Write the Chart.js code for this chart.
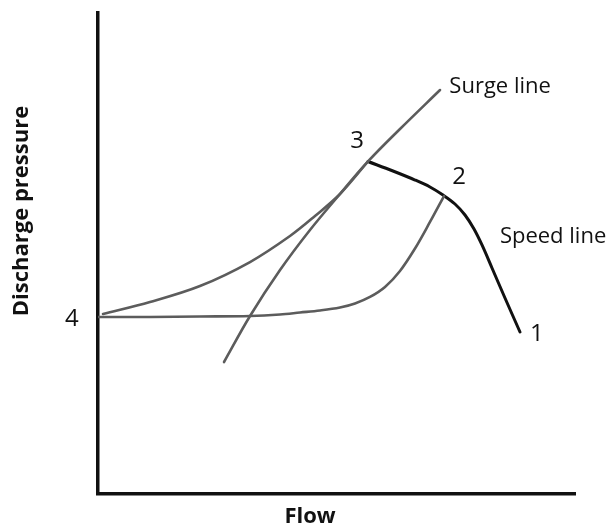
<!DOCTYPE html>
<html>
<head>
<meta charset="utf-8">
<script src="https://cdn.jsdelivr.net/npm/chart.js@4/dist/chart.umd.min.js"></script>
<style>
  html, body { margin: 0; padding: 0; background: #fff; }
  #wrap { width: 610px; height: 531px; }
</style>
</head>
<body>
<div id="wrap"><canvas id="c" width="610" height="531"></canvas></div>
<script>
// Flow (x) and discharge pressure (y), arbitrary units 0..100
const surgeLine = [
  {x: 26.42, y: 27.44}, {x: 31.87, y: 37.01}, {x: 38.16, y: 46.57}, {x: 44.44, y: 54.89},
  {x: 50.73, y: 62.37}, {x: 56.60, y: 69.13}, {x: 63.31, y: 75.88}, {x: 71.70, y: 83.99}
];
const upperCurve = [
  {x: 1.05, y: 37.42}, {x: 10.90, y: 39.92}, {x: 21.38, y: 43.24}, {x: 31.87, y: 48.23},
  {x: 40.25, y: 53.64}, {x: 45.49, y: 57.80}, {x: 50.73, y: 62.37}, {x: 56.60, y: 69.13}
];
const lowerCurve = [
  {x: 0.00, y: 36.80}, {x: 10.90, y: 36.80}, {x: 21.38, y: 36.90}, {x: 31.87, y: 37.01},
  {x: 38.16, y: 37.32}, {x: 42.35, y: 37.73}, {x: 46.54, y: 38.15}, {x: 50.73, y: 38.77},
  {x: 53.88, y: 39.61}, {x: 57.02, y: 40.96}, {x: 60.17, y: 43.04}, {x: 63.31, y: 46.36},
  {x: 66.46, y: 51.04}, {x: 69.60, y: 56.55}, {x: 72.54, y: 61.95}
];
const speedLine = [
  {x: 56.60, y: 69.13}, {x: 61.84, y: 67.15}, {x: 66.46, y: 65.28}, {x: 69.60, y: 63.83},
  {x: 72.33, y: 62.16}, {x: 74.84, y: 60.29}, {x: 76.94, y: 58.00}, {x: 78.83, y: 55.09},
  {x: 80.50, y: 51.77}, {x: 82.60, y: 46.99}, {x: 85.32, y: 40.75}, {x: 88.47, y: 33.68}
];
const pointLabels = ['1', '2', '3', '4'];
const pointLabelX = [92.0, 75.7, 54.3, -5.5];
const pointLabelY = [33.3, 65.9, 73.4, 36.4];
const lineLabels = ['Surge line', 'Speed line'];
const lineLabelX = [84.3, 95.4];
const lineLabelY = [84.6, 53.4];
const xTitle = 'Flow';
const yTitle = 'Discharge pressure';

const labelPlugin = {
  id: 'labels',
  afterDraw(chart) {
    const ctx = chart.ctx;
    const xs = chart.scales.x, ys = chart.scales.y;
    ctx.save();
    ctx.fillStyle = '#111';
    ctx.textAlign = 'center';
    ctx.textBaseline = 'middle';
    ctx.font = '24px "Open Sans", sans-serif';
    pointLabels.forEach((t, i) => {
      ctx.fillText(t, xs.getPixelForValue(pointLabelX[i]), ys.getPixelForValue(pointLabelY[i]));
    });
    ctx.font = '22px "Open Sans", sans-serif';
    lineLabels.forEach((t, i) => {
      ctx.fillText(t, xs.getPixelForValue(lineLabelX[i]), ys.getPixelForValue(lineLabelY[i]));
    });
    ctx.font = 'bold 22px "Open Sans", sans-serif';
    ctx.fillText(xTitle, 310, 517);
    ctx.translate(22, 211);
    ctx.rotate(-Math.PI / 2);
    ctx.fillText(yTitle, 0, 0);
    ctx.restore();
  }
};

const grey = '#5c5c5c';
const common = {showLine: true, pointRadius: 0, tension: 0.35, borderCapStyle: 'round'};
new Chart(document.getElementById('c'), {
  type: 'scatter',
  data: {
    datasets: [
      Object.assign({label: 'Surge line', data: surgeLine, borderColor: grey, borderWidth: 2.6}, common),
      Object.assign({label: 'Upper', data: upperCurve, borderColor: grey, borderWidth: 2.6}, common),
      Object.assign({label: 'Lower', data: lowerCurve, borderColor: grey, borderWidth: 2.6}, common),
      Object.assign({label: 'Speed line', data: speedLine, borderColor: '#111', borderWidth: 3}, common)
    ]
  },
  options: {
    responsive: false,
    animation: false,
    events: [],
    layout: {padding: {left: 98, right: 35, top: 13, bottom: 37}},
    plugins: {legend: {display: false}, tooltip: {enabled: false}},
    scales: {
      x: {
        type: 'linear', min: 0, max: 100,
        grid: {display: false, drawTicks: false},
        border: {display: true, color: '#111', width: 3.5},
        ticks: {display: false},
        afterFit: s => { s.height = 0; }
      },
      y: {
        type: 'linear', min: 0, max: 100,
        grid: {display: false, drawTicks: false},
        border: {display: true, color: '#111', width: 3.5},
        ticks: {display: false},
        afterFit: s => { s.width = 0; }
      }
    }
  },
  plugins: [labelPlugin]
});
</script>
</body>
</html>
